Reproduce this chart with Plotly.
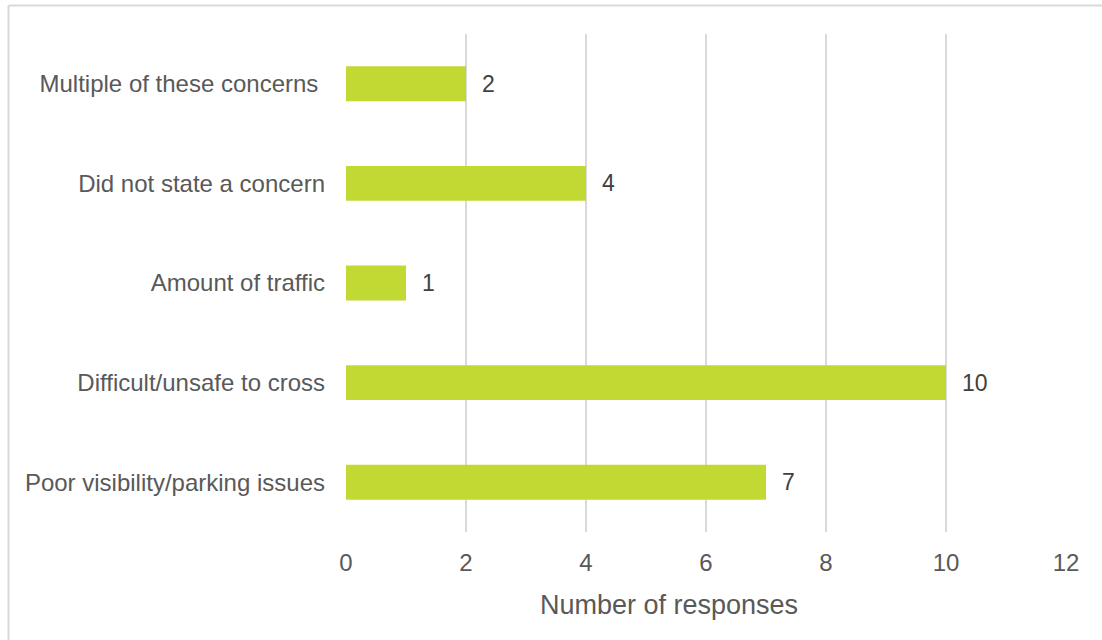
import plotly.graph_objects as go

# Survey responses by type of concern
categories = [
    "Poor visibility/parking issues",
    "Difficult/unsafe to cross",
    "Amount of traffic",
    "Did not state a concern",
    "Multiple of these concerns",
]
# displayed category labels (the last one carries a trailing space)
category_labels = [
    "Poor visibility/parking issues",
    "Difficult/unsafe to cross",
    "Amount of traffic",
    "Did not state a concern",
    "Multiple of these concerns\u00a0",
]
responses = [7, 10, 1, 4, 2]
x_ticks = [0, 2, 4, 6, 8, 10, 12]
x_title = "Number of responses"

BAR_COLOR = "#c2d833"
GRID_COLOR = "#d9d9d9"
LABEL_COLOR = "#595959"
VALUE_COLOR = "#404040"
FONT = "Liberation Sans, Arial, sans-serif"

W, H = 1102, 640
ML, MR, MT, MB = 346, 36, 34, 108
PW, PH = W - ML - MR, H - MT - MB

fig = go.Figure(
    go.Bar(
        x=responses,
        y=categories,
        orientation="h",
        marker=dict(color=BAR_COLOR, line=dict(width=0)),
        hoverinfo="skip",
    )
)

# value labels to the right of each bar
for cat, val in zip(categories, responses):
    fig.add_annotation(
        x=val, y=cat, text=str(val), showarrow=False,
        xanchor="left", yanchor="middle", xshift=14,
        font=dict(family=FONT, size=23, color=VALUE_COLOR),
    )

def px_to_paper_x(px):
    return (px - ML) / PW

def px_to_paper_y(py):
    return (H - MB - py) / PH

# axis title, placed slightly left of the plot centre
fig.add_annotation(
    x=px_to_paper_x(669), y=px_to_paper_y(605), xref="paper", yref="paper",
    text=x_title, showarrow=False, xanchor="center", yanchor="middle",
    font=dict(family=FONT, size=27, color=LABEL_COLOR),
)

# outer frame (top and left edges)
fig.add_shape(type="line", xref="paper", yref="paper",
              x0=px_to_paper_x(8.5), x1=px_to_paper_x(W + 5),
              y0=px_to_paper_y(5.5), y1=px_to_paper_y(5.5),
              line=dict(color=GRID_COLOR, width=2))
fig.add_shape(type="line", xref="paper", yref="paper",
              x0=px_to_paper_x(8.5), x1=px_to_paper_x(8.5),
              y0=px_to_paper_y(5.5), y1=px_to_paper_y(H + 5),
              line=dict(color=GRID_COLOR, width=2))

fig.update_layout(
    width=W, height=H,
    margin=dict(l=ML, r=MR, t=MT, b=MB),
    paper_bgcolor="white", plot_bgcolor="white",
    bargap=0.65,
    showlegend=False,
    font=dict(family=FONT, color=LABEL_COLOR, size=24),
    xaxis=dict(
        range=[0, 12], tickvals=x_ticks, ticktext=[str(t) for t in x_ticks],
        showgrid=True, gridcolor=GRID_COLOR, gridwidth=2,
        zeroline=False, showline=False, ticks="",
        ticklabelstandoff=14,
        tickfont=dict(size=24, color=LABEL_COLOR),
        fixedrange=True,
    ),
    yaxis=dict(
        categoryorder="array", categoryarray=categories,
        tickvals=categories, ticktext=category_labels,
        showgrid=False, zeroline=False, showline=False, ticks="",
        ticklabelstandoff=20,
        tickfont=dict(size=24, color=LABEL_COLOR),
        fixedrange=True,
    ),
)

fig.write_html("out.html")
